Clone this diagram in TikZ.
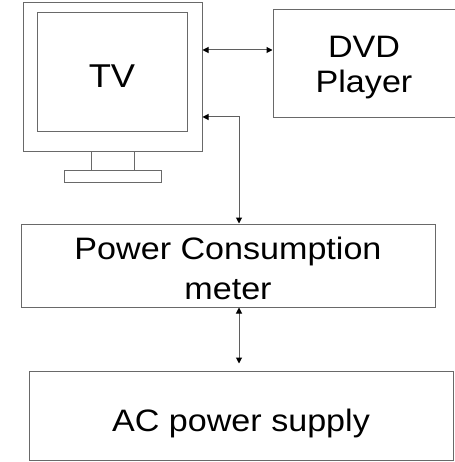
\documentclass[tikz,border=0pt]{standalone}
\usepackage{fontspec}
\setmainfont{Liberation Sans}[FakeStretch=1.1]
\usepackage{tikz}
\usetikzlibrary{arrows.meta, positioning, calc}
\definecolor{boxgray}{RGB}{105,105,105}
\definecolor{arrowgray}{RGB}{95,95,95}

\begin{document}
\begin{tikzpicture}[
    x=1pt, y=-1pt,
    every node/.style = {font=\fontsize{31}{35}\selectfont, inner sep=0pt},
    plainbox/.style   = {draw=boxgray, line width=1pt, rectangle, align=center},
    darr/.style       = {{Triangle[length=6pt, width=6pt, black]}-{Triangle[length=6pt, width=6pt, black]},
                         draw=arrowgray, line width=1pt},
]
\useasboundingbox (0,0) rectangle (454,462);

% TV set
\node[plainbox, minimum width=179pt, minimum height=149pt] (tvframe) at (112.5,77.5) {};
\node[plainbox, minimum width=150pt, minimum height=119pt,
      text height=31pt, text depth=0pt, font=\fontsize{33}{35}\selectfont] (tv) at (112,72.5) {TV};
\node[plainbox, minimum width=43pt, minimum height=19pt] (neck) at (112.5,161.5) {};
\node[plainbox, minimum width=97pt, minimum height=12pt] (stand) at (112.5,177) {};

% DVD player, cut by the right margin
\node[plainbox, minimum width=182pt, minimum height=108pt] (dvd) at (364,64)
    {\rule{0pt}{29pt}DVD\\Player};

% Meter
\node[plainbox, minimum width=414pt, minimum height=83pt,
      font=\fontsize{31}{40}\selectfont] (meter) at (228,265.5)
    {\rule{0pt}{29pt}Power Consumption\\meter};

% Supply
\node[plainbox, minimum width=424pt, minimum height=89pt,
      text height=32pt, text depth=0pt] (ac) at (241,415.5) {AC power supply};

% Links
\draw[darr] (tvframe.east |- 0,50) -- (dvd.west |- 0,50);
\draw[darr] (tvframe.east |- 0,117) -| (meter.north -| 239,0);
\draw[darr, shorten >=7pt] (meter.south -| 239,0) -- (ac.north -| 239,0);

\end{tikzpicture}
\end{document}
